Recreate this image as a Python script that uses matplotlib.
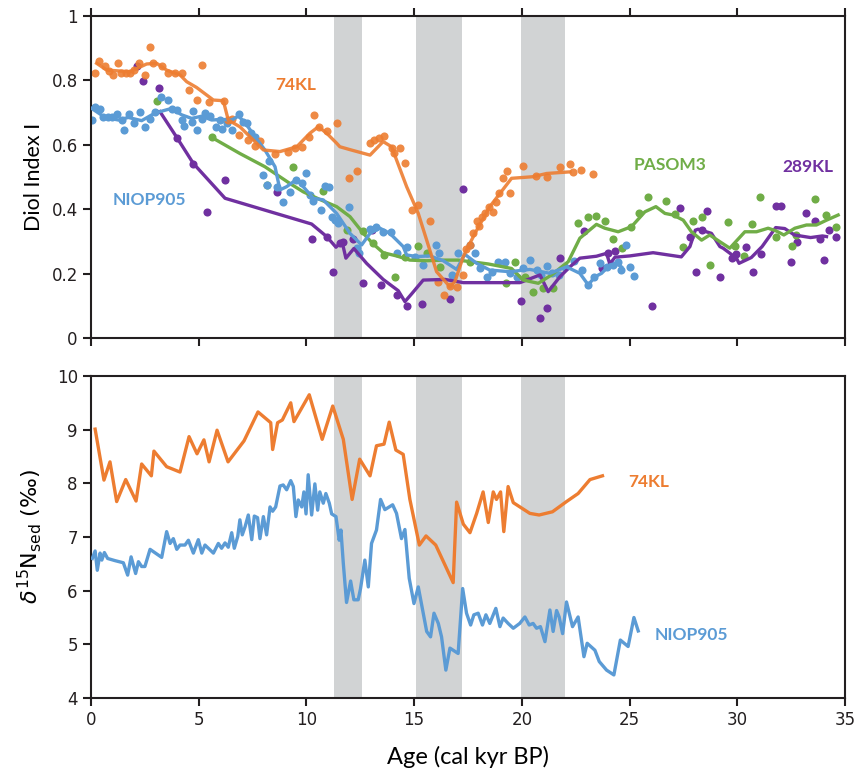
import numpy as np
import matplotlib
matplotlib.use("Agg")
import matplotlib.pyplot as plt

# ---- shaded intervals (kyr BP)
bands = [(11.3, 12.6), (15.1, 17.2), (19.95, 22.0)]

# ---- top panel: Diol Index I
# 74KL
kl74_dot_x = [0.19,0.37,0.65,0.84,1.04,1.27,1.39,1.61,1.81,2.01,2.23,2.51,2.74,2.89,3.28,3.56,3.90,4.21,4.55,4.90,
              5.14,5.48,6.19,6.37,6.53,6.87,7.27,7.61,7.84,8.55,9.15,9.47,9.78,10.13,10.36,10.60,10.94,11.40,11.96,12.36,
              12.93,13.15,13.38,13.58,13.95,14.06,14.34,14.57,14.92,15.19,15.75,16.10,16.40,16.64,16.97,17.25,17.40,17.59,17.74,17.90,
              18.02,18.13,18.28,18.48,18.64,18.79,18.95,19.10,19.29,19.44,20.03,20.65,21.17,21.76,22.23,22.35,22.74,23.31]
kl74_dot_y = [0.822,0.860,0.845,0.830,0.817,0.855,0.822,0.822,0.822,0.832,0.855,0.817,0.905,0.853,0.845,0.822,0.822,0.822,0.770,0.739,
              0.848,0.734,0.737,0.677,0.679,0.630,0.615,0.596,0.613,0.570,0.579,0.589,0.594,0.625,0.693,0.656,0.644,0.669,0.496,0.518,
              0.606,0.616,0.620,0.627,0.589,0.574,0.589,0.544,0.398,0.413,0.364,0.173,0.134,0.162,0.159,0.196,0.275,0.289,0.325,0.364,
              0.348,0.377,0.387,0.408,0.392,0.423,0.451,0.496,0.520,0.451,0.535,0.503,0.501,0.530,0.540,0.516,0.522,0.508]
kl74_line_x = [0.26,0.73,1.81,2.58,3.05,3.51,4.13,4.44,4.90,5.68,6.14,6.37,6.91,7.53,8.00,8.77,9.55,10.16,10.55,10.94,
               11.40,11.55,12.02,12.95,13.56,13.95,14.65,15.19,16.04,16.66,16.89,17.28,17.82,18.51,19.52,20.52,21.15,22.23]
kl74_line_y = [0.853,0.832,0.827,0.851,0.853,0.832,0.817,0.796,0.778,0.739,0.737,0.677,0.656,0.615,0.584,0.579,0.594,0.636,0.656,0.636,
               0.605,0.594,0.585,0.568,0.610,0.594,0.470,0.387,0.206,0.159,0.175,0.253,0.325,0.408,0.496,0.501,0.511,0.516]

# NIOP905
niop_dot_x = [0.03,0.19,0.42,0.57,0.77,0.96,1.19,1.42,1.55,1.76,2.01,2.27,2.51,2.74,2.97,3.25,3.59,3.77,3.98,4.21,
              4.33,4.67,4.75,4.90,5.14,5.29,5.52,5.78,5.99,6.09,6.30,6.53,6.87,7.07,7.22,7.42,7.61,8.00,8.15,8.28,
              8.61,8.92,9.23,9.51,9.78,9.98,10.16,10.32,10.66,10.86,11.06,11.17,11.32,11.47,11.99,12.33,12.45,12.95,13.23,13.54,
              13.91,14.22,14.65,15.03,15.42,16.01,16.16,16.74,17.04,17.59,17.82,18.05,18.36,18.59,18.87,19.21,19.44,19.75,20.06,20.37,
              20.68,20.88,21.15,21.41,21.72,22.00,22.43,22.77,23.08,23.36,23.62,23.93,24.24,24.47,24.62,24.81,25.01,25.21]
niop_dot_y = [0.677,0.718,0.710,0.685,0.687,0.685,0.696,0.677,0.646,0.696,0.669,0.703,0.656,0.679,0.703,0.749,0.739,0.710,0.708,0.677,
              0.658,0.672,0.706,0.646,0.679,0.700,0.689,0.656,0.677,0.648,0.667,0.646,0.696,0.672,0.669,0.636,0.623,0.506,0.475,0.550,
              0.470,0.423,0.454,0.491,0.480,0.511,0.444,0.426,0.398,0.472,0.470,0.377,0.366,0.358,0.408,0.279,0.263,0.338,0.346,0.330,
              0.330,0.263,0.284,0.253,0.227,0.289,0.263,0.196,0.263,0.289,0.263,0.216,0.190,0.206,0.237,0.237,0.201,0.190,0.216,0.242,
              0.211,0.196,0.224,0.201,0.196,0.221,0.240,0.211,0.165,0.188,0.234,0.221,0.227,0.237,0.211,0.289,0.221,0.193]
niop_line_x = [0.03,0.65,1.27,1.73,2.35,2.82,3.20,3.74,4.21,4.67,5.14,5.60,6.06,6.53,6.84,7.15,7.61,8.07,8.54,8.77,
               9.08,9.55,9.85,10.32,10.78,11.40,12.02,12.56,12.95,13.41,13.87,14.49,14.65,15.11,15.73,16.35,16.97,17.35,17.90,18.51,
               19.44,20.37,21.30,22.07,22.69,23.08,23.39,23.70,24.08,24.39,24.62]
niop_line_y = [0.713,0.685,0.677,0.685,0.675,0.693,0.703,0.713,0.693,0.682,0.689,0.677,0.679,0.677,0.689,0.669,0.625,0.584,0.532,0.460,
               0.470,0.493,0.470,0.434,0.429,0.387,0.325,0.289,0.325,0.341,0.325,0.284,0.258,0.253,0.255,0.240,0.213,0.260,0.232,0.211,
               0.206,0.213,0.201,0.221,0.201,0.165,0.190,0.201,0.227,0.232,0.221]

# PASOM3
pasom_dot_x = [3.05,5.60,8.15,9.39,10.75,11.86,12.61,13.10,13.60,14.11,14.57,15.17,15.60,16.20,17.59,19.27,19.70,20.14,20.52,21.00,
               21.43,22.62,23.08,23.46,23.87,24.24,24.64,25.06,25.45,25.85,26.68,27.10,27.50,27.93,28.34,28.72,29.57,29.88,30.30,30.66,
               31.05,31.80,32.53,32.71,33.59,34.11,34.58]
pasom_dot_y = [0.737,0.623,0.475,0.530,0.457,0.335,0.333,0.295,0.258,0.189,0.253,0.286,0.263,0.221,0.237,0.171,0.237,0.190,0.144,0.154,
               0.156,0.358,0.375,0.379,0.362,0.306,0.280,0.346,0.389,0.437,0.425,0.386,0.282,0.364,0.377,0.227,0.361,0.287,0.255,0.355,
               0.438,0.315,0.286,0.320,0.431,0.382,0.344]
pasom_line_x = [5.60,6.91,8.07,9.23,9.85,10.63,11.40,12.02,12.64,13.10,13.56,14.18,14.80,15.58,16.35,17.04,18.44,19.52,20.06,20.76,
                21.38,22.15,22.69,23.46,23.85,24.47,25.09,25.71,26.22,26.64,27.02,27.49,27.87,28.34,28.72,29.19,29.65,30.35,30.89,31.43,
                31.79,32.16,32.67,33.21,33.67,34.14,34.68]
pasom_line_y = [0.623,0.573,0.532,0.480,0.454,0.430,0.408,0.377,0.325,0.292,0.265,0.255,0.242,0.240,0.242,0.242,0.230,0.216,0.180,0.170,
                0.196,0.237,0.310,0.353,0.341,0.330,0.346,0.392,0.408,0.387,0.382,0.366,0.330,0.304,0.320,0.299,0.279,0.330,0.330,0.341,
                0.333,0.320,0.341,0.351,0.351,0.366,0.382]

# 289KL
kl289_dot_x = [2.12,2.41,3.16,3.98,4.72,5.37,6.20,8.61,10.24,10.97,11.22,11.55,11.71,12.17,12.64,13.02,13.44,14.18,14.65,15.35,
               16.66,17.28,19.95,20.84,21.18,21.75,22.90,23.70,24.00,24.32,26.02,27.33,27.82,28.09,28.34,28.58,29.19,29.73,29.96,30.39,
               30.72,31.12,31.80,32.05,32.51,32.75,33.18,33.60,33.82,34.01,34.26,34.60]
kl289_dot_y = [0.845,0.799,0.775,0.621,0.540,0.392,0.491,0.454,0.308,0.315,0.205,0.296,0.299,0.306,0.171,0.334,0.165,0.134,0.100,0.106,
               0.122,0.463,0.116,0.061,0.094,0.248,0.332,0.218,0.265,0.271,0.099,0.403,0.314,0.205,0.337,0.394,0.188,0.248,0.261,0.282,
               0.205,0.260,0.409,0.409,0.237,0.298,0.387,0.364,0.308,0.243,0.335,0.315]
kl289_line_x = [3.20,3.98,4.75,6.22,10.24,10.94,11.37,11.65,11.83,12.20,12.79,13.56,14.26,14.57,14.88,15.42,16.43,17.28,19.91,20.84,
                21.22,21.76,22.23,22.69,23.46,23.93,24.08,24.32,25.01,26.09,27.40,27.80,28.05,28.18,28.80,29.19,29.34,29.96,30.08,30.65,
                31.15,31.78,32.20,32.65,33.40,33.95,34.14]
kl289_line_y = [0.703,0.623,0.542,0.434,0.354,0.315,0.282,0.300,0.248,0.278,0.232,0.182,0.147,0.113,0.137,0.180,0.182,0.172,0.172,0.196,
                0.144,0.190,0.221,0.248,0.254,0.263,0.230,0.251,0.255,0.265,0.252,0.284,0.335,0.338,0.325,0.284,0.279,0.248,0.232,0.250,
                0.284,0.343,0.340,0.320,0.312,0.317,0.315]

# ---- bottom panel: d15N sed
kl74_n_x = [0.19,0.60,0.88,1.19,1.61,2.09,2.35,2.80,2.92,3.51,4.13,4.55,4.92,5.24,5.48,5.85,6.36,7.10,7.75,8.34,
            8.43,8.66,8.88,9.27,9.42,10.13,10.73,11.22,11.71,12.12,12.47,12.95,13.25,13.60,13.84,14.15,14.49,14.80,15.24,15.55,
            16.00,16.81,16.97,17.28,17.59,17.90,18.20,18.44,18.67,18.82,19.01,19.16,19.36,19.60,20.37,20.80,21.42,22.07,22.61,23.16,
            23.74]
kl74_n_y = [9.01,8.06,8.40,7.66,8.07,7.67,8.36,8.14,8.60,8.31,8.21,8.87,8.55,8.81,8.40,8.99,8.40,8.79,9.33,9.13,
            8.63,9.13,9.18,9.50,9.15,9.65,8.82,9.44,8.82,7.70,8.45,8.14,8.70,8.73,9.14,8.62,8.54,7.70,6.85,7.02,
            6.85,6.15,7.65,7.24,7.08,7.44,7.84,7.27,7.84,7.70,7.84,7.10,7.94,7.64,7.44,7.41,7.47,7.66,7.81,8.07,
            8.14]

niop_n_x = [0.06,0.19,0.29,0.42,0.50,0.62,0.77,1.11,1.50,1.70,1.86,2.07,2.20,2.35,2.50,2.74,3.28,3.51,3.67,3.82,
            3.98,4.13,4.36,4.52,4.75,4.98,5.14,5.29,5.52,5.68,5.91,6.06,6.22,6.37,6.53,6.65,6.81,6.91,7.02,7.15,
            7.30,7.46,7.58,7.73,7.84,8.00,8.15,8.31,8.43,8.57,8.77,8.92,9.08,9.27,9.39,9.51,9.62,9.78,9.88,9.98,
            10.08,10.24,10.39,10.52,10.62,10.78,10.90,11.06,11.17,11.37,11.52,11.60,11.71,11.86,12.05,12.20,12.40,12.51,12.71,12.87,
            13.02,13.25,13.44,13.64,14.00,14.18,14.41,14.57,14.77,14.99,15.19,15.39,15.58,15.76,15.92,16.12,16.27,16.47,16.66,17.04,
            17.25,17.43,17.62,17.77,17.97,18.17,18.33,18.51,18.67,18.79,18.98,19.13,19.36,19.60,19.90,20.14,20.34,20.52,20.68,20.86,
            21.07,21.30,21.45,21.61,21.73,21.89,22.07,22.35,22.61,22.88,23.03,23.39,23.59,23.93,24.27,24.57,24.93,25.20,25.40]
niop_n_y = [6.60,6.74,6.38,6.70,6.57,6.71,6.60,6.56,6.52,6.29,6.63,6.32,6.54,6.45,6.45,6.77,6.62,7.10,6.88,6.97,
            6.77,6.85,6.85,6.94,6.70,6.95,6.70,6.85,6.76,6.70,6.88,6.79,6.89,6.81,7.08,6.79,7.01,7.32,7.04,7.19,
            7.41,6.95,7.39,7.36,6.97,7.38,7.04,7.56,7.48,7.56,7.95,7.97,7.88,8.05,7.94,7.38,7.69,7.56,7.84,7.43,
            8.16,7.41,7.99,7.50,7.84,7.63,7.81,7.63,7.43,7.38,6.94,7.13,6.51,5.78,6.18,5.83,5.83,6.04,6.57,6.07,
            6.88,7.13,7.70,7.51,7.60,7.44,6.97,7.14,6.23,5.76,6.07,5.64,5.24,5.14,5.58,5.39,5.14,4.52,4.93,4.83,
            6.04,5.58,5.36,5.55,5.58,5.36,5.55,5.39,5.55,5.67,5.33,5.49,5.39,5.30,5.39,5.51,5.36,5.39,5.30,5.33,
            5.05,5.64,5.24,5.63,5.51,5.20,5.79,5.33,5.51,4.77,5.02,4.89,4.68,4.52,4.43,5.08,4.96,5.50,5.25]

c_orange = "#ED7D31"
c_blue = "#5B9BD5"
c_green = "#70AD47"
c_purple = "#7030A0"
band_col = "#D1D3D4"
axis_col = "#231F20"

plt.rcParams["font.family"] = ["DejaVu Sans"]

fig = plt.figure(figsize=(8.58, 7.73), dpi=100)
ax1 = fig.add_axes([0.1061, 0.5627, 0.8788, 0.4166])
ax2 = fig.add_axes([0.1061, 0.0970, 0.8788, 0.4166])

for ax in (ax1, ax2):
    for a, b in bands:
        ax.axvspan(a, b, color=band_col, lw=0, zorder=0)
    for sp in ax.spines.values():
        sp.set_linewidth(1.5)
        sp.set_color(axis_col)
    ax.set_xlim(0, 35)
    ax.set_xticks(range(0, 36, 5))
    ax.tick_params(axis="both", direction="out", length=6, width=1.5, color=axis_col,
                   labelsize=12, labelcolor=axis_col)

# top panel
ms = 34
ax1.scatter(kl289_dot_x, kl289_dot_y, s=ms, color=c_purple, lw=0, zorder=2)
ax1.scatter(pasom_dot_x, pasom_dot_y, s=ms, color=c_green, lw=0, zorder=2)
ax1.scatter(niop_dot_x, niop_dot_y, s=ms, color=c_blue, lw=0, zorder=2)
ax1.scatter(kl74_dot_x, kl74_dot_y, s=ms, color=c_orange, lw=0, alpha=0.9, zorder=2)
ax1.plot(kl289_line_x, kl289_line_y, color=c_purple, lw=2.4, zorder=3)
ax1.plot(pasom_line_x, pasom_line_y, color=c_green, lw=2.4, zorder=3)
ax1.plot(niop_line_x, niop_line_y, color=c_blue, lw=2.4, zorder=3)
ax1.plot(kl74_line_x, kl74_line_y, color=c_orange, lw=2.4, alpha=0.9, zorder=3)

ax1.set_ylim(0, 1)
ax1.set_yticks(np.arange(0, 1.01, 0.2))
ax1.set_yticklabels(["0", "0.2", "0.4", "0.6", "0.8", "1"])
ax1.tick_params(axis="x", top=True, bottom=True, labelbottom=False)
ax1.set_ylabel("Diol Index I", fontsize=15.5, family=["Lato", "DejaVu Sans"])
ax1.yaxis.set_label_coords(-0.062, 0.5)

lab = dict(fontsize=12.5, fontweight="bold", family=["Lato", "DejaVu Sans"], ha="center", va="center")
ax1.text(9.51, 0.786, "74KL", color=c_orange, **lab)
ax1.text(2.69, 0.429, "NIOP905", color=c_blue, **lab)
ax1.text(26.9, 0.537, "PASOM3", color=c_green, **lab)
ax1.text(33.27, 0.531, "289KL", color=c_purple, **lab)

# bottom panel
ax2.plot(kl74_n_x, kl74_n_y, color=c_orange, lw=2.4, zorder=3)
ax2.plot(niop_n_x, niop_n_y, color=c_blue, lw=2.4, zorder=3)
ax2.set_ylim(4, 10)
ax2.set_yticks(range(4, 11))
ax2.set_ylabel(r"$\delta^{15}$N$_{\mathrm{sed}}$ (‰)", fontsize=16)
ax2.yaxis.set_label_coords(-0.062, 0.5)
ax2.set_xlabel("Age (cal kyr BP)", fontsize=17, family=["Lato", "DejaVu Sans"], labelpad=12)

lab2 = dict(fontsize=12.5, fontweight="bold", family=["Lato", "DejaVu Sans"], ha="left", va="center")
ax2.text(24.92, 8.02, "74KL", color=c_orange, **lab2)
ax2.text(26.17, 5.17, "NIOP905", color=c_blue, **lab2)

fig.savefig("out.png", dpi=100)
